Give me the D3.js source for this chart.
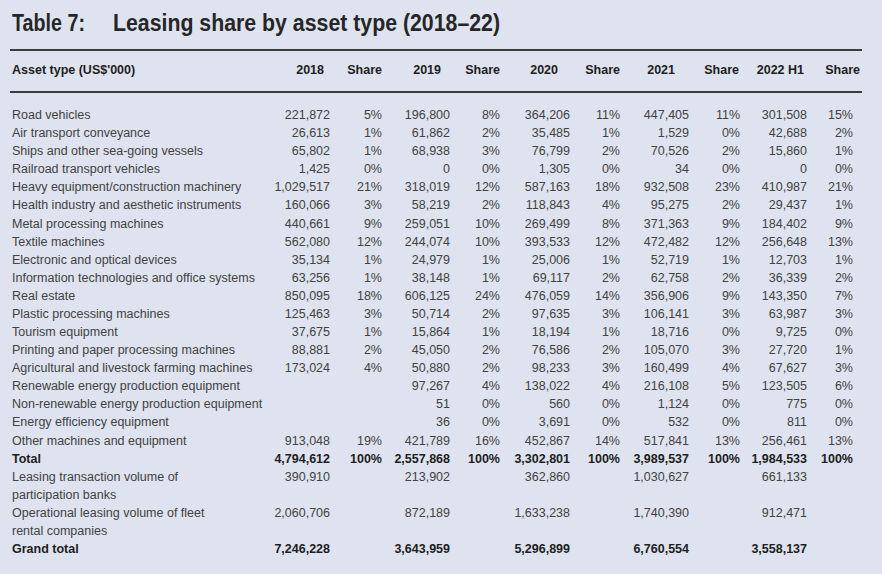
<!DOCTYPE html>
<html>
<head>
<meta charset="utf-8">
<script src="https://cdn.jsdelivr.net/npm/d3@7"></script>
<style>
  html, body { margin: 0; padding: 0; background: #dee3ef; }
  svg { display: block; }
  text { font-family: "Liberation Sans", Arial, sans-serif; }
</style>
</head>
<body>
<svg id="chart" width="882" height="574"></svg>
<script>
// ---------- DATA ----------
const title = "Table 7:";
const subtitle = "Leasing share by asset type (2018–22)";
const headerLabel = "Asset type (US$'000)";
const years = ["2018", "2019", "2020", "2021", "2022 H1"];
const shareLabel = "Share";

const categories = [
  "Road vehicles",
  "Air transport conveyance",
  "Ships and other sea-going vessels",
  "Railroad transport vehicles",
  "Heavy equipment/construction machinery",
  "Health industry and aesthetic instruments",
  "Metal processing machines",
  "Textile machines",
  "Electronic and optical devices",
  "Information technologies and office systems",
  "Real estate",
  "Plastic processing machines",
  "Tourism equipment",
  "Printing and paper processing machines",
  "Agricultural and livestock farming machines",
  "Renewable energy production equipment",
  "Non-renewable energy production equipment",
  "Energy efficiency equipment",
  "Other machines and equipment",
  "Total"
];

const v2018 = [221872, 26613, 65802, 1425, 1029517, 160066, 440661, 562080, 35134, 63256, 850095, 125463, 37675, 88881, 173024, null, null, null, 913048, 4794612];
const s2018 = [5, 1, 1, 0, 21, 3, 9, 12, 1, 1, 18, 3, 1, 2, 4, null, null, null, 19, 100];
const v2019 = [196800, 61862, 68938, 0, 318019, 58219, 259051, 244074, 24979, 38148, 606125, 50714, 15864, 45050, 50880, 97267, 51, 36, 421789, 2557868];
const s2019 = [8, 2, 3, 0, 12, 2, 10, 10, 1, 1, 24, 2, 1, 2, 2, 4, 0, 0, 16, 100];
const v2020 = [364206, 35485, 76799, 1305, 587163, 118843, 269499, 393533, 25006, 69117, 476059, 97635, 18194, 76586, 98233, 138022, 560, 3691, 452867, 3302801];
const s2020 = [11, 1, 2, 0, 18, 4, 8, 12, 1, 2, 14, 3, 1, 2, 3, 4, 0, 0, 14, 100];
const v2021 = [447405, 1529, 70526, 34, 932508, 95275, 371363, 472482, 52719, 62758, 356906, 106141, 18716, 105070, 160499, 216108, 1124, 532, 517841, 3989537];
const s2021 = [11, 0, 2, 0, 23, 2, 9, 12, 1, 2, 9, 3, 0, 3, 4, 5, 0, 0, 13, 100];
const v2022 = [301508, 42688, 15860, 0, 410987, 29437, 184402, 256648, 12703, 36339, 143350, 63987, 9725, 27720, 67627, 123505, 775, 811, 256461, 1984533];
const s2022 = [15, 2, 1, 0, 21, 1, 9, 13, 1, 2, 7, 3, 0, 1, 3, 6, 0, 0, 13, 100];

const extraLabels = [
  ["Leasing transaction volume of", "participation banks"],
  ["Operational leasing volume of fleet", "rental companies"],
  ["Grand total"]
];
const participationBanks = [390910, 213902, 362860, 1030627, 661133];
const fleetRental = [2060706, 872189, 1633238, 1740390, 912471];
const grandTotal = [7246228, 3643959, 5296899, 6760554, 3558137];

// ---------- LAYOUT ----------
const W = 882, H = 574;
const svg = d3.select("#chart");
svg.append("rect").attr("width", W).attr("height", H).attr("fill", "#dee3ef");

const values = [v2018, v2019, v2020, v2021, v2022];
const shares = [s2018, s2019, s2020, s2021, s2022];

const colIdx = d3.range(years.length);
const xVal = d3.scaleOrdinal().domain(colIdx).range([330, 450, 570, 689, 807]);
const xShare = d3.scaleOrdinal().domain(colIdx).range([382, 500, 620, 740, 853]);
const xValHdr = d3.scaleOrdinal().domain(colIdx).range([324, 441, 558, 675, 804]);
const xShareHdr = d3.scaleOrdinal().domain(colIdx).range([382, 500, 620, 739, 860]);

const rowY = d3.scaleLinear().domain([0, 24]).range([119, 553]);
const fmt = d3.format(",");
const bodyColor = "#424242";
const darkColor = "#1e1e1e";
const fs = 12.5;

// Title
svg.append("text").attr("x", 12).attr("y", 31)
  .attr("font-size", 23).attr("font-weight", "bold").attr("fill", "#262626")
  .attr("textLength", 73).attr("lengthAdjust", "spacingAndGlyphs")
  .text(title);
svg.append("text").attr("x", 113).attr("y", 31)
  .attr("font-size", 23).attr("font-weight", "bold").attr("fill", "#262626")
  .attr("textLength", 387).attr("lengthAdjust", "spacingAndGlyphs")
  .text(subtitle);

// Rules
[50, 92].forEach(y => {
  svg.append("line").attr("x1", 10).attr("x2", 862).attr("y1", y).attr("y2", y)
    .attr("stroke", "#3c3c3c").attr("stroke-width", 2);
});

// Header
const hdr = svg.append("g").attr("font-size", fs).attr("font-weight", "bold").attr("fill", darkColor);
hdr.append("text").attr("x", 12).attr("y", 74).text(headerLabel);
hdr.selectAll("text.yr").data(colIdx).join("text").attr("class", "yr")
  .attr("x", d => xValHdr(d)).attr("y", 74).attr("text-anchor", "end")
  .text(d => years[d]);
hdr.selectAll("text.sh").data(colIdx).join("text").attr("class", "sh")
  .attr("x", d => xShareHdr(d)).attr("y", 74).attr("text-anchor", "end")
  .text(shareLabel);

// Body rows
const rows = categories.map((c, i) => ({
  idx: i, lines: [c], bold: c === "Total",
  vals: values.map(v => v[i]), shs: shares.map(s => s[i])
}));
rows.push({ idx: 20, lines: extraLabels[0], bold: false, vals: participationBanks, shs: null });
rows.push({ idx: 22, lines: extraLabels[1], bold: false, vals: fleetRental, shs: null });
rows.push({ idx: 24, lines: extraLabels[2], bold: true, vals: grandTotal, shs: null });

const body = svg.append("g").attr("font-size", fs);
const rg = body.selectAll("g.row").data(rows).join("g").attr("class", "row")
  .attr("fill", d => d.bold ? darkColor : bodyColor)
  .attr("font-weight", d => d.bold ? "bold" : "normal");

rg.each(function(d) {
  const g = d3.select(this);
  g.selectAll("text.lab").data(d.lines).join("text").attr("class", "lab")
    .attr("x", 12).attr("y", (l, k) => rowY(d.idx + k)).text(l => l);
  g.selectAll("text.val").data(colIdx.filter(j => d.vals[j] != null)).join("text").attr("class", "val")
    .attr("x", j => xVal(j)).attr("y", rowY(d.idx)).attr("text-anchor", "end")
    .text(j => fmt(d.vals[j]));
  if (d.shs) {
    g.selectAll("text.shv").data(colIdx.filter(j => d.shs[j] != null)).join("text").attr("class", "shv")
      .attr("x", j => xShare(j)).attr("y", rowY(d.idx)).attr("text-anchor", "end")
      .text(j => d.shs[j] + "%");
  }
});
</script>
</body>
</html>
